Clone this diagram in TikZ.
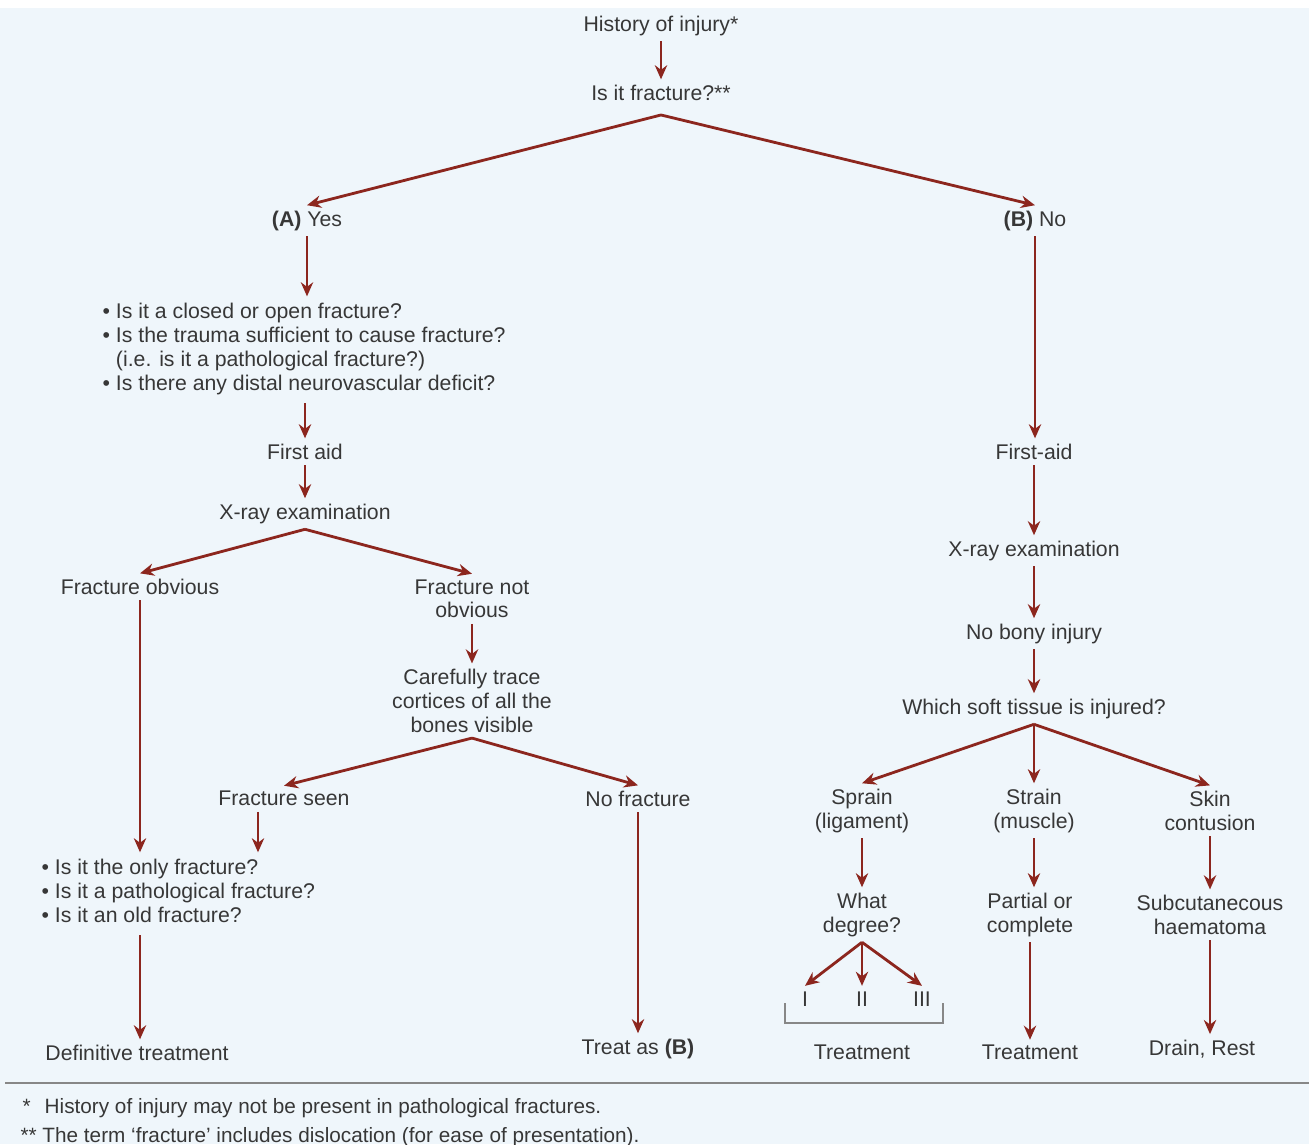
\documentclass[tikz,border=0pt]{standalone}
\usepackage{fontspec}
\setmainfont{Liberation Sans}
\usepackage{tikz}
\usetikzlibrary{arrows.meta}
\definecolor{fond}{RGB}{239,246,251}
\definecolor{fleche}{RGB}{140,38,30}
\definecolor{texte}{RGB}{55,55,55}
\definecolor{trait}{RGB}{135,135,135}

\begin{document}
\begin{tikzpicture}[x=0.02cm,y=-0.02cm,
  every node/.style={text=texte,font=\fontsize{12.1}{13.6}\selectfont,inner sep=3pt,yshift=-1pt},
  etape/.style={align=center},
  liste/.style={align=left,anchor=west},
  fl/.style={draw=fleche,line width=1.6pt,-{Stealth[length=8pt,width=7pt]}},
  note/.style={anchor=west,font=\fontsize{11.8}{13}\selectfont}]
\fill[white] (0,0) rectangle (1309,1144);
\useasboundingbox (0,0) rectangle (1309,1144);
\fill[fond] (0,8) rectangle (1309,1144);

\node (hist) at (661,24) {History of injury*};
\node (frac) at (661,91) {Is it fracture?**};
\coordinate (fracbas) at ([yshift=-4pt]frac.south);
\node (oui) at (307,219) {\textbf{(A)} Yes};
\node (non) at (1035,219) {\textbf{(B)} No};

\node[liste] (questA) at (97,348) {\begin{tabular}{@{}l@{ }l@{}}
\textbullet & Is it a closed or open fracture?\\
\textbullet & Is the trauma sufficient to cause fracture?\\
 & (i.e. is it a pathological fracture?)\\
\textbullet & Is there any distal neurovascular deficit?
\end{tabular}};
\node (secoursA) at (305,450) {First aid};
\node (radioA) at (305,512) {X-ray examination};
\node (evident) at (140,585) {Fracture obvious};
\node[etape] (pasevident) at (472,597) {Fracture not\\obvious};
\node[etape] (cortex) at (472,699) {Carefully trace\\cortices of all the\\bones visible};
\node (vue) at (284,797) {Fracture seen};
\node (aucune) at (638,797) {No fracture};
\node[liste] (questB) at (36,892) {\begin{tabular}{@{}l@{ }l@{}}
\textbullet & Is it the only fracture?\\
\textbullet & Is it a pathological fracture?\\
\textbullet & Is it an old fracture?
\end{tabular}};
\node (definitif) at (137,1051) {Definitive treatment};
\node (commeB) at (638,1047) {Treat as \textbf{(B)}};

\node (secoursB) at (1034,450) {First-aid};
\node (radioB) at (1034,549) {X-ray examination};
\node (osseuse) at (1034,632) {No bony injury};
\node (tissu) at (1034,707) {Which soft tissue is injured?};
\node[etape] (entorse) at (862,809) {Sprain\\(ligament)};
\node[etape] (elong) at (1034,809) {Strain\\(muscle)};
\node[etape] (peau) at (1210,809) {Skin\\contusion};
\node[etape] (degre) at (862,913) {What\\degree?};
\node[etape] (partiel) at (1030,913) {Partial or\\complete};
\node[etape] (hemat) at (1210,913) {Subcutanecous\\haematoma};
\node (d1) at (805,997) {I};
\node (d2) at (862,997) {II};
\node (d3) at (922,997) {III};
\node (trt1) at (862,1051) {Treatment};
\node (trt2) at (1030,1051) {Treatment};
\node (drain) at (1202,1047) {Drain, Rest};

\draw[trait,line width=0.8pt] (785,1003) -- (785,1023) -- (943,1023) -- (943,1003);
\draw[trait,line width=1.2pt] (5,1083) -- (1309,1083);
\node[note] (n1) at (17,1106) {*\hspace{8pt}History of injury may not be present in pathological fractures.};
\node[note] (n2) at (15,1135) {** The term `fracture' includes dislocation (for ease of presentation).};

\draw[fl] (hist) -- (frac);
\draw[fl] (fracbas) -- (oui.north);
\draw[fl] (fracbas) -- (non.north);
\draw[fl] (oui.south) -- (oui.south |- questA.north);
\draw[fl] (questA.south -| secoursA) -- (secoursA);
\draw[fl] (secoursA) -- (radioA);
\draw[fl] (radioA.south) -- (evident.north);
\draw[fl] (radioA.south) -- (pasevident.north);
\draw[fl] (pasevident) -- (cortex);
\draw[fl] (cortex.south) -- (vue.north);
\draw[fl] (cortex.south) -- (aucune.north);
\draw[fl] (evident.south) -- (evident.south |- questB.north);
\coordinate (vx) at (258,0);
\draw[fl] (vue.south -| vx) -- (questB.north -| vx);
\draw[fl] (questB.south -| evident) -- (definitif.north -| evident);
\draw[fl] (aucune) -- (commeB);

\draw[fl] (non.south) -- (non.south |- secoursB.north);
\draw[fl] (secoursB) -- (radioB);
\draw[fl] (radioB) -- (osseuse);
\draw[fl] (osseuse) -- (tissu);
\draw[fl] (tissu.south) -- (entorse.north);
\draw[fl] (tissu.south) -- (elong.north);
\draw[fl] (tissu.south) -- (peau.north);
\draw[fl] (entorse) -- (degre);
\draw[fl] (elong.south) -- (elong.south |- partiel.north);
\draw[fl] (peau) -- (hemat);
\draw[fl] (degre.south) -- (d1.north);
\draw[fl] (degre.south) -- (d2.north);
\draw[fl] (degre.south) -- (d3.north);
\draw[fl] (partiel.south) -- (partiel.south |- trt2.north);
\draw[fl] (hemat.south) -- (hemat.south |- drain.north);
\end{tikzpicture}
\end{document}
